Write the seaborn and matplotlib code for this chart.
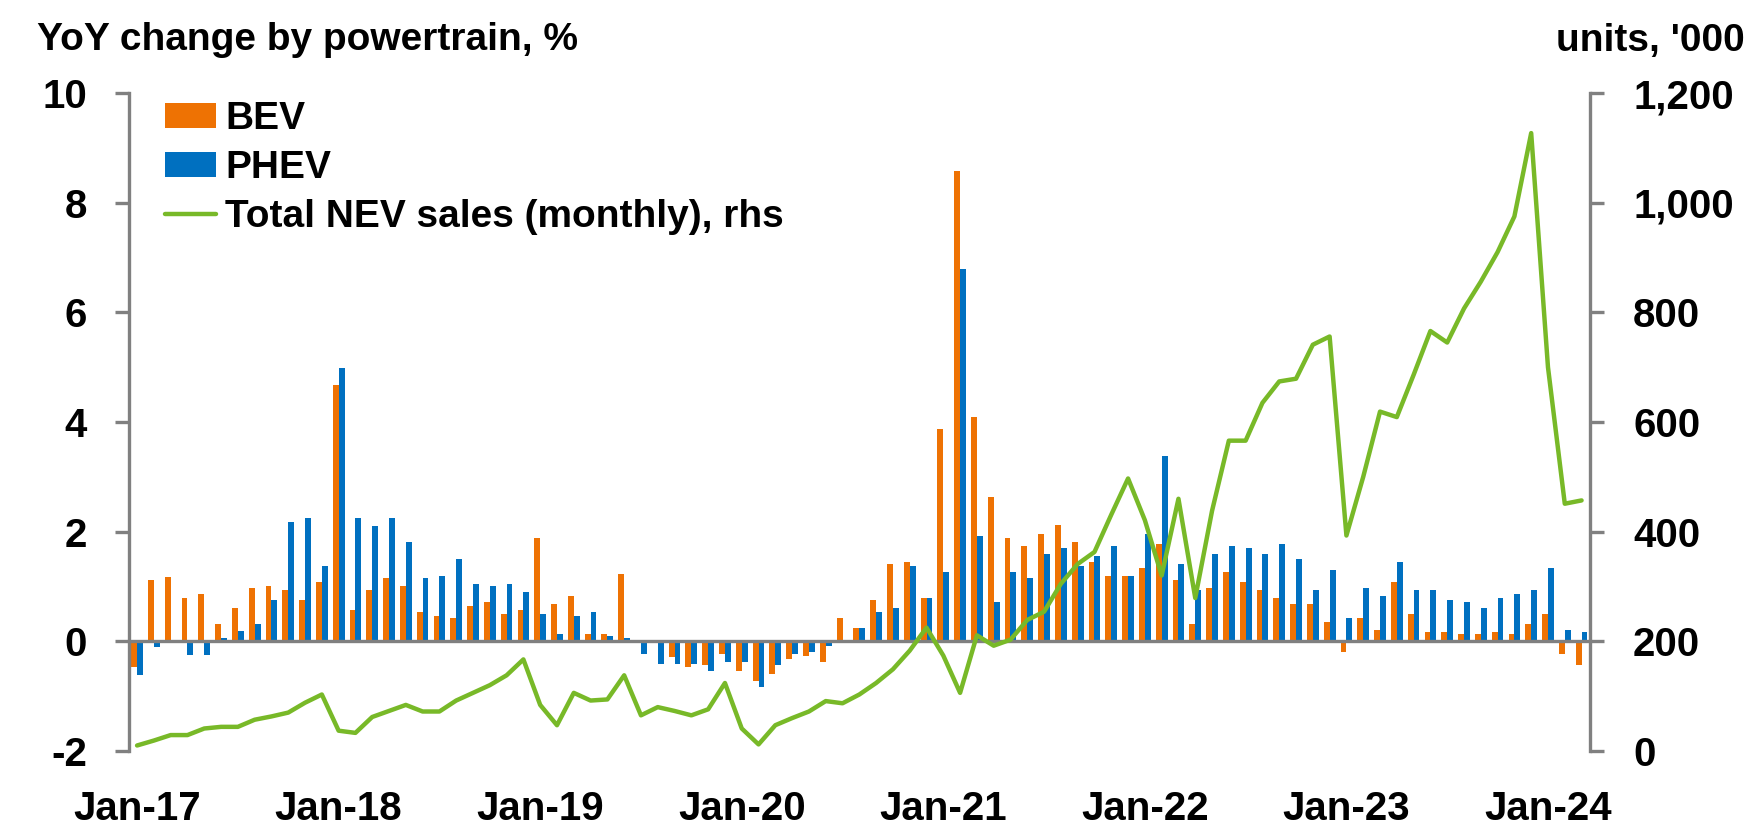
import numpy as np
import pandas as pd
import seaborn as sns
import matplotlib.pyplot as plt
from matplotlib.ticker import FuncFormatter

# YoY change by powertrain (%), Jan-17 .. Mar-24
bev = [-0.47, 1.11, 1.18, 0.79, 0.87, 0.32, 0.61, 0.97, 1.01, 0.94, 0.75, 1.09,
       4.68, 0.57, 0.94, 1.16, 1.01, 0.54, 0.46, 0.42, 0.64, 0.72, 0.50, 0.57,
       1.88, 0.68, 0.83, 0.13, 0.13, 1.23, 0.0, 0.0, -0.29, -0.47, -0.43, -0.23,
       -0.55, -0.73, -0.59, -0.33, -0.26, -0.37, 0.42, 0.24, 0.75, 1.41, 1.45, 0.79,
       3.88, 8.57, 4.10, 2.64, 1.88, 1.73, 1.95, 2.13, 1.81, 1.45, 1.19, 1.19,
       1.33, 1.77, 1.11, 0.32, 0.97, 1.26, 1.08, 0.94, 0.79, 0.68, 0.68, 0.36,
       -0.19, 0.42, 0.21, 1.08, 0.50, 0.17, 0.17, 0.13, 0.13, 0.17, 0.13, 0.32,
       0.50, -0.23, -0.44]
phev = [-0.62, -0.10, 0.0, -0.25, -0.25, 0.06, 0.18, 0.32, 0.75, 2.17, 2.25, 1.38,
        4.98, 2.25, 2.10, 2.25, 1.81, 1.16, 1.19, 1.51, 1.04, 1.01, 1.04, 0.90,
        0.50, 0.13, 0.46, 0.54, 0.10, 0.06, -0.23, -0.41, -0.41, -0.41, -0.55, -0.37,
        -0.37, -0.84, -0.44, -0.23, -0.19, -0.08, 0.02, 0.24, 0.54, 0.61, 1.38, 0.79,
        1.26, 6.79, 1.92, 0.72, 1.26, 1.16, 1.59, 1.70, 1.38, 1.55, 1.73, 1.19,
        1.95, 3.38, 1.41, 0.94, 1.59, 1.73, 1.70, 1.59, 1.77, 1.51, 0.94, 1.30,
        0.42, 0.97, 0.83, 1.45, 0.94, 0.94, 0.75, 0.72, 0.61, 0.79, 0.86, 0.94,
        1.33, 0.21, 0.17]
# total NEV sales, '000 units (rhs)
nev = [10, 19, 29, 29, 41, 44, 44, 57, 63, 70, 88, 103,
       37, 33, 62, 73, 84, 72, 72, 92, 106, 120, 138, 167,
       84, 47, 106, 92, 94, 138, 65, 80, 73, 65, 76, 124,
       41, 12, 47, 60, 72, 91, 87, 103, 124, 149, 183, 225,
       174, 106, 211, 192, 203, 239, 254, 305, 341, 363, 431, 497,
       421, 320, 460, 279, 438, 566, 566, 635, 674, 679, 741, 756,
       393, 500, 619, 609, 686, 766, 745, 807, 856, 910, 975, 1127,
       700, 451, 457]

months = list(pd.date_range('2017-01-01', periods=len(bev), freq='MS').strftime('%b-%y'))
year_labels = [m for m in months if m.startswith('Jan')]

ORANGE = '#EE7203'
BLUE = '#0070C0'
GREEN = '#78B928'
GREY = '#808080'

sns.set_style('white')
plt.rcParams['font.family'] = ['Liberation Sans', 'DejaVu Sans']
plt.rcParams['font.weight'] = 'bold'
plt.rcParams['axes.unicode_minus'] = False
plt.rcParams['text.color'] = 'black'
plt.rcParams['xtick.color'] = 'black'
plt.rcParams['ytick.color'] = 'black'

df = pd.DataFrame({'month': months * 2,
                   'type': ['BEV'] * len(bev) + ['PHEV'] * len(phev),
                   'yoy': bev + phev})

fig = plt.figure(figsize=(17.53, 8.31), dpi=100)
ax = fig.add_axes([0.0734, 0.0963, 0.907 - 0.0734, 0.888 - 0.0963])
sns.barplot(data=df, x='month', y='yoy', hue='type', order=months,
            hue_order=['BEV', 'PHEV'], palette=[ORANGE, BLUE], saturation=1,
            width=0.7, gap=0, linewidth=0, ax=ax)
bar_h, bar_l = ax.get_legend_handles_labels()
ax.get_legend().remove()

ax.set_ylim(-2, 10)
ax.set_yticks(range(-2, 11, 2))
ax.set_xlim(-0.5, len(months) - 0.5)
ax.set_xlabel('')
ax.set_ylabel('')

# x axis line sits at zero, year ticks on boundaries
ax.spines['bottom'].set_position(('data', 0))
ax.set_xticks(np.arange(11.5, len(months), 12))
ax.tick_params(axis='x', labelbottom=False, direction='out', length=8,
               width=2.4, color=GREY)
sec = ax.secondary_xaxis('bottom')
sec.set_xticks(range(0, len(months), 12), labels=year_labels)
sec.tick_params(length=0, pad=28, labelsize=29, labelcolor='black')
sec.spines['bottom'].set_visible(False)

ax.tick_params(axis='y', direction='out', length=10, width=2.4, color=GREY,
               labelsize=29, labelcolor='black', pad=20)
for s in ['top', 'right']:
    ax.spines[s].set_visible(False)
for s in ['left', 'bottom']:
    ax.spines[s].set_color(GREY)
    ax.spines[s].set_linewidth(2.4)

ax2 = ax.twinx()
sns.lineplot(x=np.arange(len(nev)), y=nev, color=GREEN, linewidth=3.2,
             label='Total NEV sales (monthly), rhs', ax=ax2)
line_h, line_l = ax2.get_legend_handles_labels()
ax2.get_legend().remove()
ax2.set_ylim(0, 1200)
ax2.set_yticks(range(0, 1201, 200))
ax2.yaxis.set_major_formatter(FuncFormatter(lambda v, p: f'{v:,.0f}'))
ax2.tick_params(axis='y', direction='out', length=10, width=2.4, color=GREY,
                labelsize=29, labelcolor='black', pad=21)
for s in ['top', 'left', 'bottom']:
    ax2.spines[s].set_visible(False)
ax2.spines['right'].set_color(GREY)
ax2.spines['right'].set_linewidth(2.4)

ax2.legend(bar_h + line_h, bar_l + line_l, loc='upper left',
           bbox_to_anchor=(165 / 1753, 1 - 101 / 831), bbox_transform=fig.transFigure,
           frameon=False, fontsize=28, borderpad=0, borderaxespad=0,
           handlelength=1.3, handleheight=0.6, handletextpad=0.25,
           labelspacing=0.34)

fig.text(37 / 1753, 1 - 40 / 831, 'YoY change by powertrain, %', fontsize=28,
         fontweight='bold', ha='left', va='center')
fig.text(1745 / 1753, 1 - 41 / 831, "units, '000", fontsize=28,
         fontweight='bold', ha='right', va='center')

fig.savefig('out.png', dpi=100)
